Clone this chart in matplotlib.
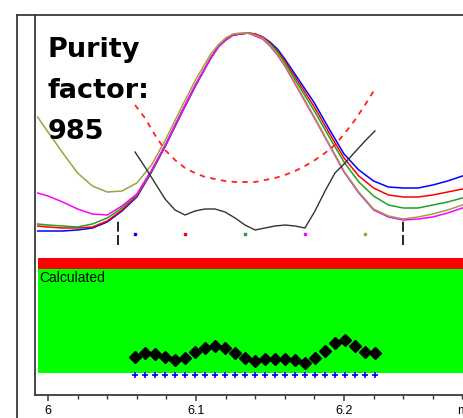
import numpy as np
import matplotlib
matplotlib.use('Agg')
import matplotlib.pyplot as plt
from matplotlib.lines import Line2D

# retention time grid for the overlaid (normalised) spectra traces, min
spec_time = [5.993, 6.00, 6.01, 6.02, 6.03, 6.04, 6.05, 6.06, 6.07, 6.08,
             6.09, 6.10, 6.11, 6.115, 6.12, 6.125, 6.13, 6.135, 6.14, 6.145,
             6.15, 6.155, 6.16, 6.17, 6.18, 6.19, 6.20, 6.21, 6.22, 6.23,
             6.24, 6.25, 6.26, 6.27, 6.28, 6.29]
spec_blue = [164, 164, 164, 165, 167, 173, 184, 198, 223, 251, 281, 310, 337, 348, 355, 360,
             361, 362, 361, 358, 353, 346, 336, 314, 292, 266, 241, 225, 214, 208,
             207, 207, 210, 214, 219, 223]
spec_red = [169, 168, 167, 167, 168, 174, 185, 199, 224, 252, 282, 311, 337, 348, 355, 360,
            361, 362, 361, 358, 352, 344, 334, 311, 288, 262, 237, 219, 207, 200,
            198, 198, 200, 203, 206, 209]
spec_green = [171, 170, 169, 168, 171, 177, 187, 200, 224, 252, 282, 311, 337, 348, 355, 360,
              361, 362, 360, 357, 351, 343, 332, 308, 284, 258, 233, 213, 199, 190,
              187, 187, 190, 193, 197, 200]
spec_magenta = [202, 199, 193, 186, 181, 180, 189, 201, 225, 252, 282, 311, 337, 348, 355, 360,
                361, 362, 359, 356, 349, 340, 329, 303, 277, 250, 223, 202, 185, 178,
                175, 176, 178, 182, 187, 191]
spec_olive = [278, 263, 242, 222, 209, 203, 204, 212, 230, 257, 287, 316, 341, 350, 357, 361,
              362, 362, 360, 357, 350, 341, 330, 304, 278, 251, 224, 203, 186, 179,
              176, 178, 181, 185, 190, 194]

# purity calculation points
pur_time = [6.0588, 6.0655, 6.0723, 6.0791, 6.0858, 6.0926, 6.0993, 6.1061, 6.1128,
            6.1196, 6.1264, 6.1331, 6.1399, 6.1466, 6.1534, 6.1601, 6.1669, 6.1736,
            6.1804, 6.1872, 6.1939, 6.2007, 6.2074, 6.2142, 6.2209]
purity_curve = [243, 228, 212, 196, 185, 180, 184, 186, 186, 183, 177, 170, 165,
                167, 169, 170, 169, 167, 184, 204, 222, 232, 243, 254, 264]
threshold_curve = [290, 277, 260, 245, 235, 227, 222, 218, 216, 214, 213, 213, 213,
                   215, 217, 220, 224, 229, 235, 242, 250, 262, 275, 290, 306]
calc_points = [38, 42, 41, 38, 35, 37, 43, 47, 49, 47, 42, 37, 34,
               36, 36, 36, 35, 32, 37, 44, 52, 55, 49, 43, 42]
calc_base = 20

# spectra sample times (dots) and peak limits
spec_mark_time = [6.0588, 6.0926, 6.1331, 6.1736, 6.2142]
spec_colors = ['#0000FF', '#FF0000', '#22A022', '#FF00FF', '#A0A040']
peak_limits = [6.0473, 6.2399]

W, H = 464, 418
fig = plt.figure(figsize=(W / 100, H / 100), dpi=100)
ax = fig.add_axes([35 / W, 23 / H, 445 / W, 380 / H])
ax.set_xlim(6 + (35 - 48) / 1480, 6 + (480 - 48) / 1480)
ax.set_ylim(0, 380)

frame = '#3a3a3a'
for s in ['left', 'top', 'bottom']:
    ax.spines[s].set_color(frame)
    ax.spines[s].set_linewidth(1.3)
ax.spines['right'].set_visible(False)

# outer frame pieces
fig.add_artist(Line2D([17 / W, 35 / W], [1 - 15 / H, 1 - 15 / H], color=frame, lw=1.3))
fig.add_artist(Line2D([17 / W, 17 / W], [0, 1 - 15 / H], color=frame, lw=1.3))

# lower panel: purity bands
x0 = 3 / 445
ax.axhspan(22, 126, xmin=x0, xmax=1, color='#00FF00', lw=0, zorder=1)
ax.axhspan(126, 137, xmin=x0, xmax=1, color='#FF0000', lw=0, zorder=1)
ax.text(5.9939, 113, 'Calculated', fontsize=10, family='Liberation Sans',
        va='baseline', ha='left', zorder=5)
ax.plot(pur_time, calc_points, ls='none', marker='D', ms=5.8, color='black', zorder=4)
ax.plot(pur_time, [calc_base] * len(pur_time), ls='none', marker='+', ms=5,
        mew=1.2, color='#0000FF', zorder=4)

# upper panel: spectra overlay
for vals, c in zip([spec_blue, spec_red, spec_green, spec_magenta, spec_olive], spec_colors):
    ax.plot(spec_time, vals, color=c, lw=1.1, zorder=3)
ax.plot(pur_time, threshold_curve, color='#FF2020', lw=1.3, ls=(0, (3, 3)), zorder=3)
ax.plot(pur_time, purity_curve, color='#333333', lw=1.0, zorder=3)
for t in peak_limits:
    ax.plot([t, t], [150, 175], color='black', lw=1.2, ls=(0, (6, 2)), zorder=3)
for t, c in zip(spec_mark_time, spec_colors):
    ax.plot([t], [161], ls='none', marker='s', ms=1.6, color=c, zorder=3)

for txt, y in zip(['Purity', 'factor:', '985'], [338, 297, 256]):
    ax.text(6.0, y, txt, fontsize=19.5, fontweight='bold', family='DejaVu Sans',
            va='baseline', ha='left', zorder=6)

# axis ticks
ax.set_xticks([6.0, 6.1, 6.2])
ax.set_xticklabels(['6', '6.1', '6.2'], family='Liberation Sans', fontsize=9)
ax.set_xticks(np.arange(6.02, 6.29, 0.02), minor=True)
ax.tick_params(axis='x', which='major', direction='out', length=4.5, width=1.1,
               color=frame, pad=2.5)
ax.tick_params(axis='x', which='minor', direction='out', length=3, width=1.0, color=frame)
ax.set_yticks([])
ax.text(6 + (457 - 48) / 1480, -10, 'min', fontsize=9, family='Liberation Sans',
        ha='left', va='top', clip_on=False)

fig.savefig('out.png', dpi=100)
